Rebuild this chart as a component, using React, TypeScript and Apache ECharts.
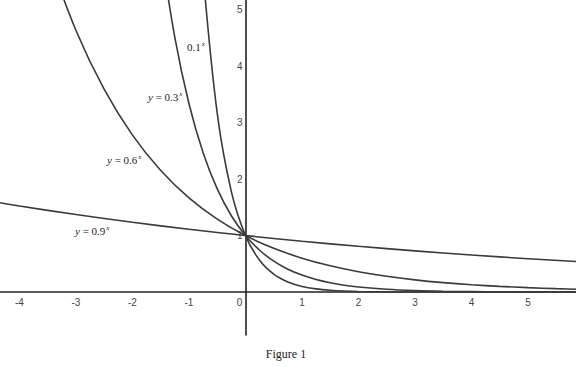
import React, { useEffect, useRef } from "react";
import * as echarts from "echarts";

const X_01 = [-0.75, -0.5, -0.25, 0, 0.25, 0.5, 0.75, 1, 1.25, 1.5, 1.75, 2, 2.5, 3, 3.5, 4, 5, 6];
const Y_01 = [5.623, 3.162, 1.778, 1, 0.5623, 0.3162, 0.1778, 0.1, 0.0562, 0.0316, 0.0178, 0.01, 0.0032, 0.001, 0.0003, 0.0001, 0, 0];

const X_03 = [-1.5, -1.25, -1, -0.75, -0.5, -0.25, 0, 0.25, 0.5, 0.75, 1, 1.25, 1.5, 1.75, 2, 2.5, 3, 3.5, 4, 4.5, 5, 5.5, 6];
const Y_03 = [6.086, 4.504, 3.333, 2.467, 1.826, 1.351, 1, 0.7401, 0.5477, 0.4054, 0.3, 0.222, 0.1643, 0.1216, 0.09, 0.0493, 0.027, 0.0148, 0.0081, 0.0044, 0.0024, 0.0013, 0.0007];

const X_06 = [-3.5, -3, -2.5, -2, -1.5, -1, -0.5, 0, 0.5, 1, 1.5, 2, 2.5, 3, 3.5, 4, 4.5, 5, 5.5, 6];
const Y_06 = [5.977, 4.63, 3.586, 2.778, 2.152, 1.667, 1.291, 1, 0.7746, 0.6, 0.4648, 0.36, 0.2789, 0.216, 0.1673, 0.1296, 0.1004, 0.0778, 0.0602, 0.0467];

const X_09 = [-4.5, -4, -3, -2, -1, 0, 1, 2, 3, 4, 5, 6];
const Y_09 = [1.6066, 1.5242, 1.3717, 1.2346, 1.1111, 1, 0.9, 0.81, 0.729, 0.6561, 0.5905, 0.5314];

const X_TICKS = [-4, -3, -2, -1, 0, 1, 2, 3, 4, 5];
const Y_TICKS = [1, 2, 3, 4, 5];

const CURVE_LABELS = [
  { text: "0.1{s|x}", x: 187, y: 47 },
  { text: "{i|y} = 0.3{s|x}", x: 148, y: 97 },
  { text: "{i|y} = 0.6{s|x}", x: 107, y: 160 },
  { text: "{i|y} = 0.9{s|x}", x: 75, y: 231 },
];

const X_MIN = -4.345;
const X_MAX = 5.85;
const Y_MIN = -0.76;
const Y_MAX = 5.17;

const zip = (xs: number[], ys: number[]) => xs.map((x, i) => [x, ys[i]]);

export default function App() {
  const ref = useRef<HTMLDivElement>(null);
  useEffect(() => {
    if (!ref.current) return;
    const chart = echarts.init(ref.current, undefined, { renderer: "svg" });
    const curveColor = "#3a3a3a";
    const gridW = 576;
    const gridH = 335;
    const xZeroPx = ((0 - X_MIN) / (X_MAX - X_MIN)) * gridW;
    const yZeroPx = ((Y_MAX - 0) / (Y_MAX - Y_MIN)) * gridH;
    const mkSeries = (xs: number[], ys: number[]) => ({
      type: "line",
      data: zip(xs, ys),
      showSymbol: false,
      smooth: 0.35,
      lineStyle: { color: curveColor, width: 1.6 },
      silent: true,
      clip: true,
    });
    const serif = "'Liberation Serif', 'Times New Roman', serif";
    const sans = "'Liberation Sans', Arial, sans-serif";
    const richLabel = {
      i: { fontStyle: "italic", fontFamily: serif, fontSize: 11, color: "#222" },
      s: { fontStyle: "italic", fontFamily: serif, fontSize: 7, padding: [0, 0, 6, 1], color: "#222" },
    };
    chart.setOption({
      animation: false,
      backgroundColor: "#ffffff",
      grid: { left: 0, top: 0, width: gridW, height: gridH, containLabel: false, outerBoundsMode: "none" },
      xAxis: {
        type: "value",
        min: X_MIN,
        max: X_MAX,
        minInterval: 1,
        maxInterval: 1,
        position: "bottom",
        offset: -(gridH - yZeroPx),
        axisLine: { show: true, onZero: false, lineStyle: { color: "#222", width: 1.6 } },
        axisTick: { show: false },
        splitLine: { show: false },
        axisLabel: {
          margin: 5,
          fontSize: 10,
          fontFamily: sans,
          color: "#444",
          showMinLabel: false,
          showMaxLabel: false,
          hideOverlap: false,
          formatter: (v: number) => {
            if (!X_TICKS.includes(v)) return "";
            if (v === 0) return "{z|0}";
            return String(v);
          },
          rich: {
            z: { fontSize: 10, fontFamily: sans, color: "#444", padding: [0, 12, 0, 0] },
          },
        },
      },
      yAxis: {
        type: "value",
        min: Y_MIN,
        max: Y_MAX,
        minInterval: 1,
        maxInterval: 1,
        position: "left",
        offset: -xZeroPx,
        axisLine: { show: true, onZero: false, lineStyle: { color: "#222", width: 1.6 } },
        axisTick: { show: false },
        splitLine: { show: false },
        axisLabel: {
          margin: 3,
          fontSize: 10,
          fontFamily: sans,
          color: "#444",
          showMinLabel: false,
          showMaxLabel: false,
          hideOverlap: false,
          formatter: (v: number) => (Y_TICKS.includes(v) ? String(v) : ""),
        },
      },
      series: [
        mkSeries(X_01, Y_01),
        mkSeries(X_03, Y_03),
        mkSeries(X_06, Y_06),
        mkSeries(X_09, Y_09),
      ],
      graphic: [
        ...CURVE_LABELS.map((l) => ({
          type: "text",
          x: l.x,
          y: l.y,
          silent: true,
          style: {
            text: l.text,
            fontFamily: serif,
            fontSize: 11,
            fill: "#222",
            verticalAlign: "middle",
            align: "left",
            rich: richLabel,
          },
        })),
        {
          type: "text",
          x: 286,
          y: 354,
          silent: true,
          style: {
            text: "Figure 1",
            fontFamily: serif,
            fontSize: 12,
            fill: "#222",
            align: "center",
            verticalAlign: "middle",
          },
        },
      ],
    });
    return () => chart.dispose();
  }, []);
  return (
    <div
      ref={ref}
      style={{ position: "fixed", left: 0, top: 0, width: 576, height: 367, background: "#fff" }}
    />
  );
}
